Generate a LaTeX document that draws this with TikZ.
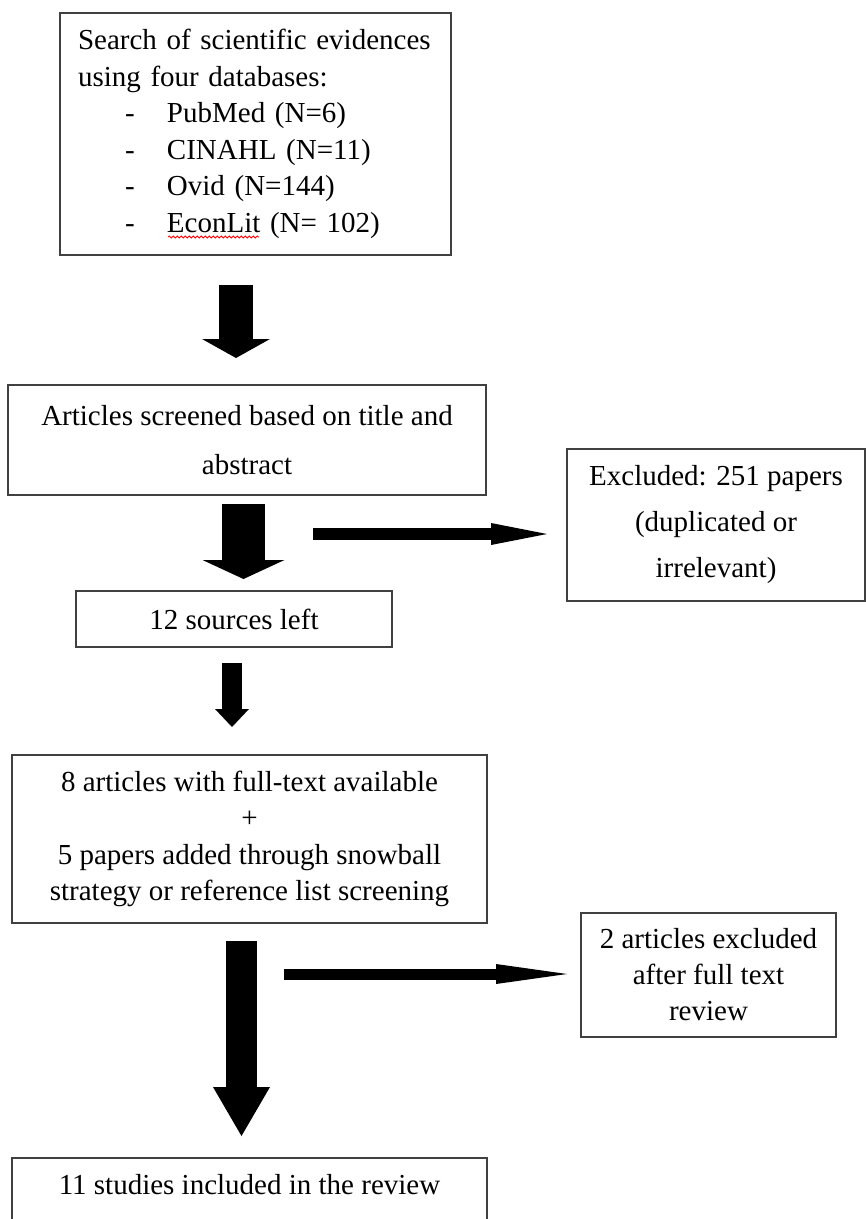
\documentclass[tikz,border=0pt]{standalone}
\usepackage{fontspec}
\setmainfont{Liberation Serif}
\usetikzlibrary{arrows.meta,decorations.pathmorphing}

\begin{document}
\begin{tikzpicture}[x=1pt,y=-1pt,
	box/.style = {draw = black!75, line width = 2pt, inner sep = 0pt, align = center, font = \fontsize{29}{36.5}\selectfont},
	down/.style n args = {3}{line width = #1pt, -{Triangle[width = #2pt, length = #3pt, line width = 0pt]}},
	side/.style n args = {3}{line width = #1pt, -{Triangle[width = #2pt, length = #3pt, line width = 0pt]}}]
	\path [use as bounding box, fill = white] (0,0) rectangle (866,1219);
	% boxes
	\node [box, align = left, text width = 355pt, minimum width = 391pt, minimum height = 242pt] (search) at (255.5,134) {Search of scientific evidences\\
		using four databases:\\
		\hspace*{47pt}\makebox[42pt][l]{-}PubMed (N=6)\\
		\hspace*{47pt}\makebox[42pt][l]{-}CINAHL (N=11)\\
		\hspace*{47pt}\makebox[42pt][l]{-}Ovid (N=144)\\
		\hspace*{47pt}\makebox[42pt][l]{-}EconLit (N= 102)};
	\node [box, font = \fontsize{29}{49}\selectfont, minimum width = 478pt, minimum height = 110pt] (screen) at (247,440) {Articles screened based on title and\\ abstract};
	\node [box, font = \fontsize{29}{46}\selectfont, minimum width = 298pt, minimum height = 152pt] (excl1) at (716,525) {Excluded: 251 papers\\ (duplicated or\\ irrelevant)};
	\node [box, minimum width = 316pt, minimum height = 56pt] (left12) at (234,619) {12 sources left};
	\node [box, minimum width = 475pt, minimum height = 168pt] (fulltext) at (249.5,839) {8 articles with full-text available\\ +\\ 5 papers added through snowball\\ strategy or reference list screening};
	\node [box, font = \fontsize{29}{36}\selectfont, minimum width = 255pt, minimum height = 124pt] (excl2) at (708.5,975) {2 articles excluded\\ after full text\\ review};
	\node [box, minimum width = 475pt, minimum height = 90pt] (final) at (249.5,1203) {11 studies included in the review\\ \mbox{}};
	\draw [red, line width = 0.8pt, decorate, decoration = {snake, amplitude = 1pt, segment length = 4pt}] (168,237) -- (259,237);
	% arrows
	\draw [down = {34}{68}{19}, shorten < = 29pt, shorten > = 26pt] ([xshift = -19.5pt]search.south) -- ([xshift = -19.5pt]search.south |- screen.north);
	\draw [down = {43}{82}{19}, shorten < = 8pt, shorten > = 11pt] ([xshift = -3.5pt]screen.south) -- ([xshift = -3.5pt]screen.south |- left12.north);
	\draw [down = {20}{34}{18}, shorten < = 15pt, shorten > = 27pt] ([xshift = -2pt]left12.south) -- ([xshift = -2pt]left12.south |- fulltext.north);
	\draw [down = {31}{57}{49}, shorten < = 17pt, shorten > = 21pt] ([xshift = -8pt]fulltext.south) -- ([xshift = -8pt]fulltext.south |- final.north);
	\coordinate (cut1) at (313,534);
	\coordinate (cut2) at (284,974);
	\draw [side = {12}{22}{56}, shorten > = 19pt] (cut1) -- (cut1 -| excl1.west);
	\draw [side = {11}{20}{71}, shorten > = 13pt] (cut2) -- (cut2 -| excl2.west);
\end{tikzpicture}
\end{document}
